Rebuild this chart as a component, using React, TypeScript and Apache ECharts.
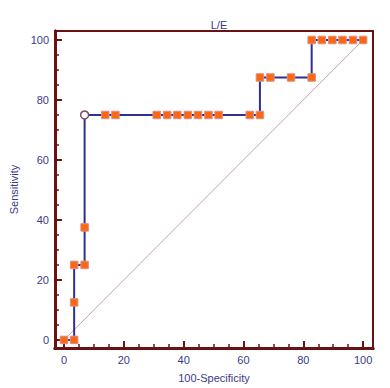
import React, { useEffect, useRef } from "react";
import * as echarts from "echarts";

const fpr = [0, 3.4, 3.4, 3.4, 6.9, 6.9, 6.9, 13.8, 17.2, 31.0, 34.5, 37.9, 41.4, 44.8, 48.3, 51.7, 62.1, 65.5, 65.5, 69.0, 75.9, 82.8, 82.8, 86.2, 89.7, 93.1, 96.6, 100];
const tpr = [0, 0, 12.5, 25, 25, 37.5, 75, 75, 75, 75, 75, 75, 75, 75, 75, 75, 75, 75, 87.5, 87.5, 87.5, 87.5, 100, 100, 100, 100, 100, 100];
const openPointIndex = 6;
const majorTicks = [0, 20, 40, 60, 80, 100];
const minorTicks = [0, 5, 10, 15, 20, 25, 30, 35, 40, 45, 50, 55, 60, 65, 70, 75, 80, 85, 90, 95, 100];
const diagonal = [[0, 0], [100, 100]];

const TXT = "#3a3a8a";
const FRAME = "#6a1212";

export default function App() {
  const ref = useRef<HTMLDivElement>(null);
  useEffect(() => {
    const chart = echarts.init(ref.current!, null, { renderer: "svg" });
    const pts = fpr.map((x, i) => [x, tpr[i]]);
    const axBase = (pos: string) => ({
      type: "value",
      position: pos,
      splitLine: { show: false },
      axisLine: { show: true, onZero: false, lineStyle: { color: FRAME, width: 3 } },
    });
    const xMin = -3, xMax = 103.3, yMin = -2.7, yMax = 103;
    chart.setOption({
      animation: false,
      textStyle: { fontFamily: "Liberation Sans, Arial, sans-serif" },
      title: {
        text: "L/E",
        left: 214,
        top: 14,
        textAlign: "center",
        textStyle: { color: TXT, fontSize: 11, fontWeight: "normal" },
      },
      grid: { left: 55, top: 31, right: 17, bottom: 40, show: true, borderColor: FRAME, borderWidth: 2, backgroundColor: "#fff" },
      xAxis: [
        {
          ...axBase("bottom"),
          min: xMin, max: xMax,
          name: "100-Specificity",
          nameLocation: "middle",
          nameGap: 24,
          nameTextStyle: { color: TXT, fontSize: 11 },
          axisTick: { show: true, inside: true, length: 7, customValues: majorTicks, lineStyle: { color: FRAME, width: 2 } },
          axisLabel: { customValues: majorTicks, color: TXT, fontSize: 11, margin: 6 },
        },
        {
          ...axBase("bottom"),
          min: xMin, max: xMax,
          axisTick: { show: true, inside: true, length: 4, customValues: minorTicks, lineStyle: { color: FRAME, width: 1.5 } },
          axisLabel: { show: false },
        },
      ],
      yAxis: [
        {
          ...axBase("left"),
          min: yMin, max: yMax,
          name: "Sensitivity",
          nameLocation: "middle",
          nameGap: 35,
          nameTextStyle: { color: TXT, fontSize: 11 },
          axisTick: { show: true, inside: true, length: 7, customValues: majorTicks, lineStyle: { color: FRAME, width: 2 } },
          axisLabel: { customValues: majorTicks, color: TXT, fontSize: 11, margin: 6 },
        },
        {
          ...axBase("left"),
          min: yMin, max: yMax,
          axisTick: { show: true, inside: true, length: 4, customValues: minorTicks, lineStyle: { color: FRAME, width: 1.5 } },
          axisLabel: { show: false },
        },
      ],
      series: [
        {
          type: "line",
          data: diagonal,
          symbol: "none",
          lineStyle: { color: "#c9a0a0", width: 1 },
          silent: true,
        },
        {
          type: "line",
          data: pts.map((p, i) =>
            i === openPointIndex
              ? { value: p, symbol: "circle", symbolSize: 8, itemStyle: { color: "#fff", borderColor: "#7a4a6a", borderWidth: 1.5 } }
              : { value: p }
          ),
          symbol: "rect",
          symbolSize: 7.5,
          itemStyle: { color: "#ff6610", borderColor: "#d8908a", borderWidth: 1 },
          lineStyle: { color: "#2e3192", width: 2 },
          z: 3,
        },
      ],
    });
    return () => chart.dispose();
  }, []);
  return <div ref={ref} style={{ width: 390, height: 388, position: "absolute", left: 0, top: 0 }} />;
}
